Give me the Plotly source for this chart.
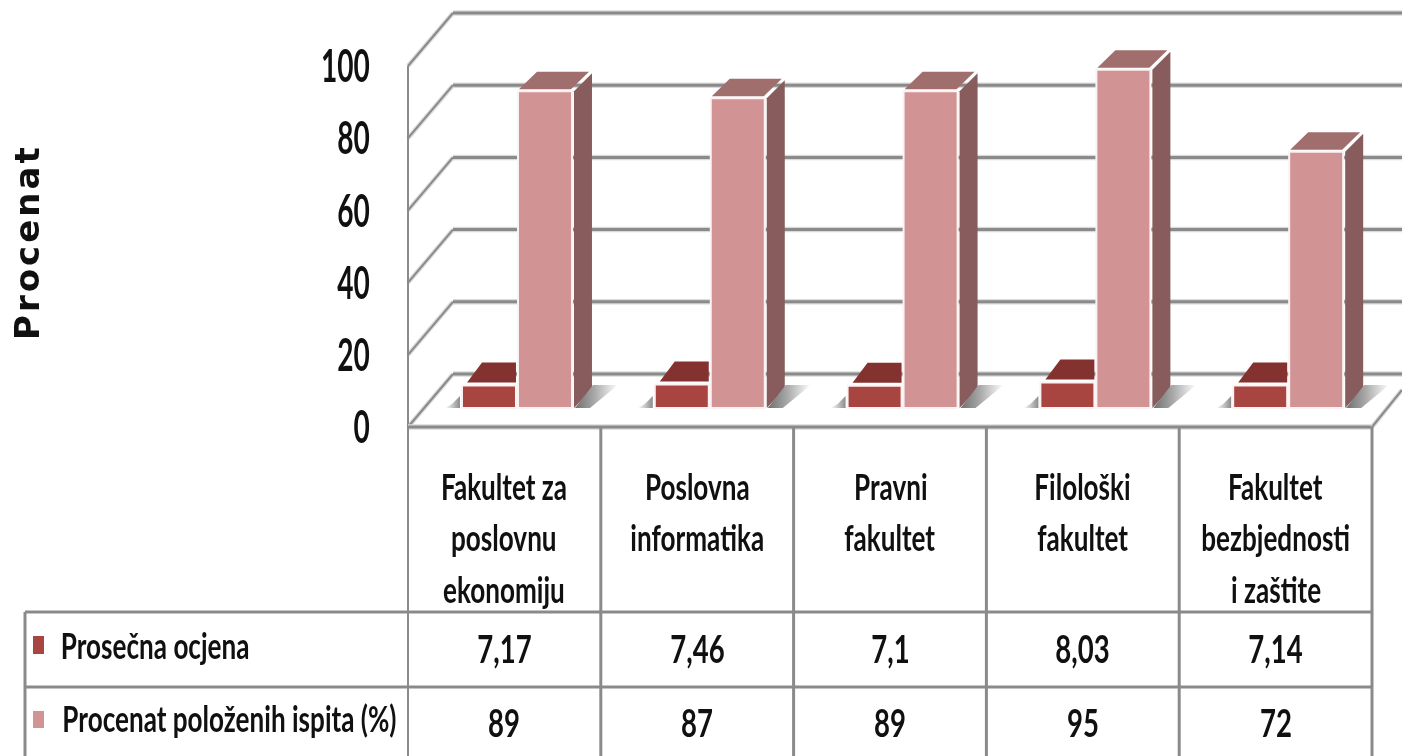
import plotly.graph_objects as go

# ---------- data ----------
category_lines = [
    ["Fakultet za", "poslovnu", "ekonomiju"],
    ["Poslovna", "informatika"],
    ["Pravni", "fakultet"],
    ["Filološki", "fakultet"],
    ["Fakultet", "bezbjednosti", "i zaštite"],
]
series_names = ["Prosečna ocjena", "Procenat položenih ispita (%)"]
prosecna_ocjena = [7.17, 7.46, 7.1, 8.03, 7.14]
procenat_polozenih = [89, 87, 89, 95, 72]
y_ticks = [0, 20, 40, 60, 80, 100]
y_title = "Procenat"

# ---------- geometry ----------
W, H = 1402, 756
X0, CAT_W = 408, 192.8       # pixel of category 0 start, pixels per category
Y0, UNIT = 427, 3.61         # pixel of value 0, pixels per percent
def X(px): return (px - X0) / CAT_W
def Y(py): return (Y0 - py) / UNIT
def dx(px): return px / CAT_W
def dy(px): return px / UNIT

BASE = dy(19)                # bars stand this far back on the floor
BAR_K = 3.56 / UNIT
BAR_W = dx(54)
DEPTH_X, DEPTH_Y = dx(18), dy(18)
WALL_X, WALL_Y = dx(45), dy(53)
OFF_DARK, OFF_PINK = 0.4200, 0.7105
BEVEL = dy(3)                # white gap between front and top of the low bars

DARK_F, DARK_T = "#A94541", "#843230"
PINK_F, PINK_T, PINK_S = "#D19393", "#A16E6E", "#885C5C"
GRID, HALO = "#8A8A8A", "#DADADA"
FONT = "Lato"

fig = go.Figure()

def poly(xs, ys, color):
    fig.add_trace(go.Scatter(x=xs + xs[:1], y=ys + ys[:1], mode="lines", fill="toself",
                             fillcolor=color, line=dict(width=0), hoverinfo="skip", showlegend=False))

def shadow(xs, ys, colors):
    fig.add_trace(go.Scatter(x=xs + xs[:1], y=ys + ys[:1], mode="lines", fill="toself",
                             fillgradient=dict(type="horizontal", colorscale=colors),
                             line=dict(width=0), hoverinfo="skip", showlegend=False))

# front faces
n = len(category_lines)
fig.add_trace(go.Bar(name=series_names[0], x=[i + OFF_DARK for i in range(n)],
                     y=[v * BAR_K - BEVEL for v in prosecna_ocjena], base=BASE, width=BAR_W,
                     marker=dict(color=DARK_F, line=dict(color="#FBF3F3", width=2)),
                     showlegend=False))
fig.add_trace(go.Bar(name=series_names[1], x=[i + OFF_PINK for i in range(n)],
                     y=[v * BAR_K for v in procenat_polozenih], base=BASE, width=BAR_W,
                     marker=dict(color=PINK_F, line=dict(color="#FBF3F3", width=2)),
                     showlegend=False))

for i in range(n):
    # dark bar top (its right part is hidden by the pink bar)
    cx = i + OFF_DARK
    t = BASE + prosecna_ocjena[i] * BAR_K
    l, r = cx - BAR_W / 2, cx + BAR_W / 2
    poly([l + dx(5), r, r, l + dx(5) + DEPTH_X - dx(3)], [t, t, t + DEPTH_Y + dy(2), t + DEPTH_Y + dy(2)], DARK_T)
    # pink bar top and side
    cx = i + OFF_PINK
    t = BASE + procenat_polozenih[i] * BAR_K
    l, r = cx - BAR_W / 2, cx + BAR_W / 2
    poly([l + dx(1), r - dx(1), r - dx(1) + DEPTH_X, l + dx(1) + DEPTH_X],
         [t + dy(2), t + dy(2), t + dy(1.5) + DEPTH_Y, t + dy(1.5) + DEPTH_Y], PINK_T)
    poly([r + dx(2), r + dx(2) + DEPTH_X, r + dx(2) + DEPTH_X, r + dx(2)],
         [t, t + DEPTH_Y, BASE + DEPTH_Y + dy(1), BASE], PINK_S)
    # floor shadows
    shadow([r + dx(3), r + dx(3) + DEPTH_X, r + dx(46), r + dx(18)],
           [BASE, BASE + dy(23), BASE + dy(23), BASE],
           [[0, "#707070"], [0.45, "#A8A8A8"], [1, "#FFFFFF"]])
    l_d = i + OFF_DARK - BAR_W / 2
    shadow([l_d - dx(17), l_d - dx(2), l_d - dx(2), l_d - dx(10)],
           [BASE, BASE, BASE + dy(12), BASE + dy(4)],
           [[0, "#FFFFFF"], [1, "#8C8C8C"]])

# ---------- chart frame (behind the bars) ----------
shapes = []
def line(x0, y0, x1, y1, w=3, halo=True, color=GRID):
    if halo:
        shapes.append(dict(type="line", layer="below", xref="x", yref="y", x0=x0, y0=y0, x1=x1, y1=y1,
                           line=dict(color=HALO, width=w + 2.5)))
    shapes.append(dict(type="line", layer="below", xref="x", yref="y", x0=x0, y0=y0, x1=x1, y1=y1,
                       line=dict(color=color, width=w)))

xr = X(W)
for v in y_ticks:
    line(0, v, WALL_X, v + WALL_Y, w=2)
    line(WALL_X, v + WALL_Y, xr, v + WALL_Y, w=3)
line(0, 0, 0, 100, w=2, halo=False)
line(0, 0, X(1372), 0, w=3)
line(X(1372), 0, X(1402), dy(37), w=2)

# ---------- data table ----------
for k in range(n + 1):
    line(k, 0, k, Y(H), w=3 if k else 2, halo=False)
line(X(25), Y(612), X(1372), Y(612), w=3, halo=False)
line(X(25), Y(687), X(1372), Y(687), w=3, halo=False)
line(X(25), Y(612), X(25), Y(H), w=3, halo=False)

for (c, py0, py1) in [(DARK_F, 636, 654), (PINK_F, 711, 728)]:
    shapes.append(dict(type="rect", layer="below", xref="x", yref="y", x0=X(33), x1=X(44),
                       y0=Y(py1), y1=Y(py0), fillcolor=c, line=dict(width=0)))

ann = []
def text(x, y, s, size=36, font=FONT, weight=700, **kw):
    ann.append(dict(x=x, y=y, xref="x", yref="y", text=s, showarrow=False, xanchor="center", yanchor="middle",
                    font=dict(family=font, size=size, color="#101010", weight=weight), **kw))

line_py = [486, 537, 589]
for i, lines in enumerate(category_lines):
    for j, s in enumerate(lines):
        text(i + 0.5, Y(line_py[j]), s)

for i in range(n):
    text(i + 0.5, Y(648), str(prosecna_ocjena[i]).replace(".", ","), size=38)
    text(i + 0.5, Y(722), str(procenat_polozenih[i]), size=38)
text(X(154.5), Y(645), series_names[0])
text(X(229.5), Y(718), series_names[1])
text(X(27), Y(242), y_title, size=34, font="DejaVu Sans", textangle=-90)

fig.update_layout(
    width=W, height=H, margin=dict(l=0, r=0, t=0, b=0), autosize=False,
    paper_bgcolor="white", plot_bgcolor="white", barmode="overlay",
    showlegend=False, shapes=shapes, annotations=ann,
    xaxis=dict(range=[X(0), X(W)], visible=False, domain=[0, 1]),
    yaxis=dict(range=[Y(H), Y(0)], anchor="free", position=X0 / W, tickvals=y_ticks,
               showgrid=False, zeroline=False, showline=False, ticks="outside", ticklen=29,
               tickcolor="rgba(0,0,0,0)",
               tickfont=dict(family=FONT, size=46, color="#101010", weight=700)),
)

# The reference's lettering is a squeezed, tall face: condense the real text horizontally.
post = """
document.body.style.margin = '0';
function squeeze(el, k) {
  el.setAttribute('textLength', el.getComputedTextLength() * k);
  el.setAttribute('lengthAdjust', 'spacingAndGlyphs');
}
document.querySelectorAll('text.annotation-text').forEach(function (t) {
  if (t.textContent === 'Procenat') { t.style.letterSpacing = '3px'; }
  else { squeeze(t, 0.725); }
});
document.querySelectorAll('.ytick text').forEach(function (t) { squeeze(t, 0.61); });
document.querySelector('.svg-container').style.filter = 'blur(0.6px)';
"""
fig.write_html("out.html", post_script=post, config={"displayModeBar": False})
